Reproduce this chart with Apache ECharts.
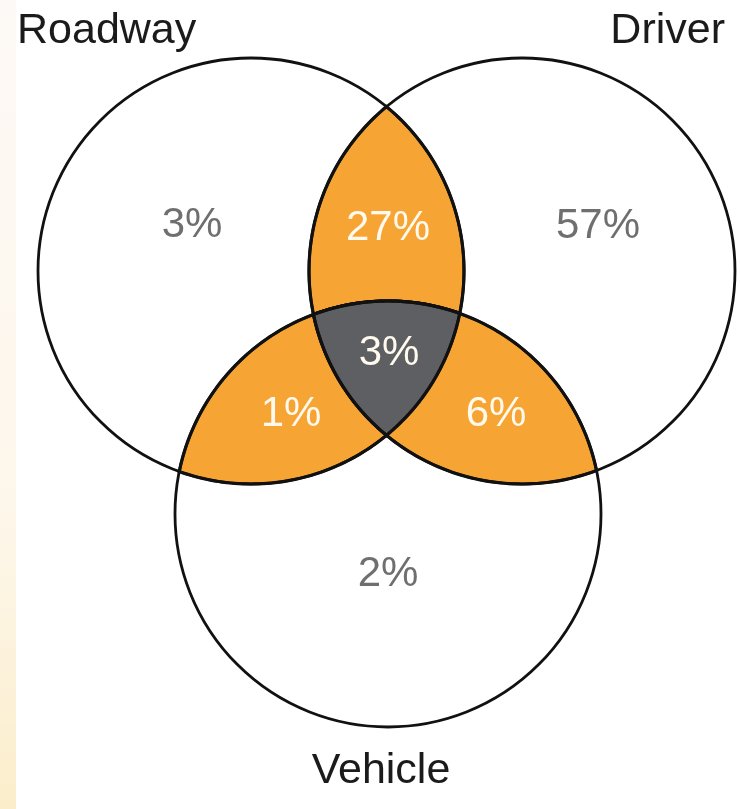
<!DOCTYPE html>
<html><head><meta charset="utf-8">
<script src="https://cdn.jsdelivr.net/npm/echarts@6/dist/echarts.min.js"></script>
<style>html,body{margin:0;padding:0;background:#fff}#c{width:740px;height:809px}</style>
</head><body><div id="c"></div>
<script>
// ---- data ----
const setNames = ['Roadway', 'Driver', 'Vehicle'];
const regionNames = ['Roadway only', 'Driver only', 'Vehicle only', 'Roadway & Driver', 'Roadway & Vehicle', 'Driver & Vehicle', 'All three'];
const regionValues = [3, 57, 2, 27, 1, 6, 3];
const regionMembers = [[0], [1], [2], [0, 1], [0, 2], [1, 2], [0, 1, 2]];

// ---- layout (diagram coordinates) ----
const circleLayout = [
  { cx: 251, cy: 271, r: 213 },
  { cx: 522, cy: 271, r: 213 },
  { cx: 388, cy: 514, r: 213 }
];
const setLabelLayout = [
  { x: 17, y: 31, align: 'left' },
  { x: 725, y: 31, align: 'right' },
  { x: 381, y: 771, align: 'center' }
];
const regionLabelLayout = [[192, 225], [598, 226], [388, 574], [388, 228], [291, 414], [496, 414], [389, 353]];

const ORANGE = '#F6A534', GRAY = '#5E5F63', LINE = '#111111';
const FONT = '"Liberation Sans", Arial, Helvetica, sans-serif';

function inside(p, c) { return Math.hypot(p[0] - c.cx, p[1] - c.cy) <= c.r + 1e-6; }
function intersections(c1, c2) {
  const d = Math.hypot(c2.cx - c1.cx, c2.cy - c1.cy);
  const a = (c1.r * c1.r - c2.r * c2.r + d * d) / (2 * d);
  const h = Math.sqrt(Math.max(0, c1.r * c1.r - a * a));
  const ux = (c2.cx - c1.cx) / d, uy = (c2.cy - c1.cy) / d;
  const px = c1.cx + a * ux, py = c1.cy + a * uy;
  return [[px - h * uy, py + h * ux], [px + h * uy, py - h * ux]];
}
function arc(ci, p0, p1, test) {
  const c = circleLayout[ci];
  const a0 = Math.atan2(p0[1] - c.cy, p0[0] - c.cx);
  const a1 = Math.atan2(p1[1] - c.cy, p1[0] - c.cx);
  let d = a1 - a0;
  while (d < 0) d += 2 * Math.PI;
  while (d >= 2 * Math.PI) d -= 2 * Math.PI;
  const cand = [d, d - 2 * Math.PI];
  let delta = cand[0];
  for (const dd of cand) {
    const am = a0 + dd / 2;
    if (test([c.cx + c.r * Math.cos(am), c.cy + c.r * Math.sin(am)])) { delta = dd; break; }
  }
  const pts = [], N = 90;
  for (let k = 0; k <= N; k++) {
    const t = a0 + delta * k / N;
    pts.push([c.cx + c.r * Math.cos(t), c.cy + c.r * Math.sin(t)]);
  }
  return pts;
}
function regionPolygon(members) {
  const test = (ci) => (p) => members.every(m => m === ci || inside(p, circleLayout[m]));
  if (members.length === 2) {
    const [i, j] = members;
    const [p1, p2] = intersections(circleLayout[i], circleLayout[j]);
    return arc(i, p1, p2, test(i)).concat(arc(j, p2, p1, test(j)));
  }
  const pick = (i, j, k) => intersections(circleLayout[i], circleLayout[j]).find(p => inside(p, circleLayout[k]));
  const v01 = pick(0, 1, 2), v12 = pick(1, 2, 0), v02 = pick(0, 2, 1);
  return arc(1, v01, v12, test(1)).concat(arc(2, v12, v02, test(2)), arc(0, v02, v01, test(0)));
}

const overlapIdx = [3, 4, 5, 6];

const chart = echarts.init(document.getElementById('c'), null, { renderer: 'canvas' });
chart.setOption({
  animation: false,
  backgroundColor: '#ffffff',
  graphic: [{
    type: 'rect', left: 0, top: 0, z: -10,
    shape: { width: 16, height: 809 },
    style: {
      fill: new echarts.graphic.LinearGradient(0, 0, 0, 1, [
        { offset: 0, color: 'rgba(250,238,228,0.35)' },
        { offset: 0.6, color: 'rgba(250,232,200,0.35)' },
        { offset: 1, color: 'rgba(248,220,150,0.5)' }
      ])
    }
  }],
  grid: { left: 0, right: 0, top: 0, bottom: 0 },
  xAxis: { type: 'value', min: 0, max: 740, show: false },
  yAxis: { type: 'value', min: 0, max: 809, inverse: true, show: false },
  series: [
    {
      name: 'overlaps', type: 'custom', z: 1,
      data: overlapIdx.map(i => ({ name: regionNames[i], value: [i, regionValues[i]] })),
      renderItem: function (params, api) {
        const ri = overlapIdx[params.dataIndex];
        const pts = regionPolygon(regionMembers[ri]).map(p => api.coord(p));
        return {
          type: 'polygon', shape: { points: pts },
          style: { fill: ri === 6 ? GRAY : ORANGE, stroke: LINE, lineWidth: 3.2 }
        };
      }
    },
    {
      name: 'sets', type: 'custom', z: 2,
      data: setNames.map((n, i) => ({ name: n, value: [i] })),
      renderItem: function (params, api) {
        const c = circleLayout[params.dataIndex];
        const p = api.coord([c.cx, c.cy]);
        const r = api.size([c.r, c.r])[0];
        return {
          type: 'circle', shape: { cx: p[0], cy: p[1], r: r },
          style: { fill: 'none', stroke: LINE, lineWidth: 2.8 }
        };
      }
    },
    {
      name: 'setLabels', type: 'custom', z: 3,
      data: setNames.map((n, i) => ({ name: n, value: [i] })),
      renderItem: function (params, api) {
        const L = setLabelLayout[params.dataIndex];
        const p = api.coord([L.x, L.y]);
        return {
          type: 'text',
          style: {
            text: setNames[params.dataIndex], x: p[0], y: p[1],
            align: L.align, verticalAlign: 'middle',
            font: '43px ' + FONT, fill: '#1b1b1b'
          }
        };
      }
    },
    {
      name: 'regionLabels', type: 'custom', z: 4,
      data: regionValues.map((v, i) => ({ name: regionNames[i], value: [i, v] })),
      renderItem: function (params, api) {
        const i = params.dataIndex;
        const p = api.coord(regionLabelLayout[i]);
        const single = regionMembers[i].length === 1;
        return {
          type: 'text',
          style: {
            text: api.value(1) + '%', x: p[0], y: p[1],
            align: 'center', verticalAlign: 'middle',
            font: '42px ' + FONT, fill: single ? '#6f6f6f' : '#fff9ee'
          }
        };
      }
    }
  ]
});
</script>
</body></html>
